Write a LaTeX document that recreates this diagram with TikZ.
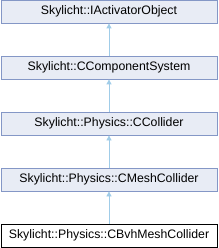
\documentclass[tikz,border=0pt]{standalone}
\usepackage{fontspec}
\setmainfont{Liberation Sans}
\usepackage{tikz}
\usetikzlibrary{arrows.meta}

\definecolor{boxfill}{RGB}{232,236,245}
\definecolor{boxline}{RGB}{132,151,198}
\definecolor{inherit}{RGB}{160,204,232}

\begin{document}
\begin{tikzpicture}[x=1pt,y=1pt,
    cls/.style={draw=boxline,fill=boxfill,line width=0.8pt,minimum width=216pt,
      minimum height=23pt,inner sep=0pt,font=\fontsize{12.3}{14}\selectfont},
    cur/.style={cls,draw=black,fill=white},
    base/.style={draw=inherit,line width=0.8pt,-{Triangle[width=5pt,length=5pt]}}]
    \useasboundingbox (0,0) rectangle (218,-248);
    \foreach \k/\y/\lab in {
      a/11.5/Skylicht::IActivatorObject,
      b/67.5/Skylicht::CComponentSystem,
      c/123.5/Skylicht::Physics::CCollider,
      d/179.5/Skylicht::Physics::CMeshCollider}{
      \node[cls] (\k) at (109,-\y) {\lab};
    }
    \node[cur] (e) at (109,-235.5) {Skylicht::Physics::CBvhMeshCollider};
    \draw[base] (b) -- (a);
    \draw[base] (c) -- (b);
    \draw[base] (d) -- (c);
    \draw[base] (e) -- (d);
  \end{tikzpicture}
\end{document}
